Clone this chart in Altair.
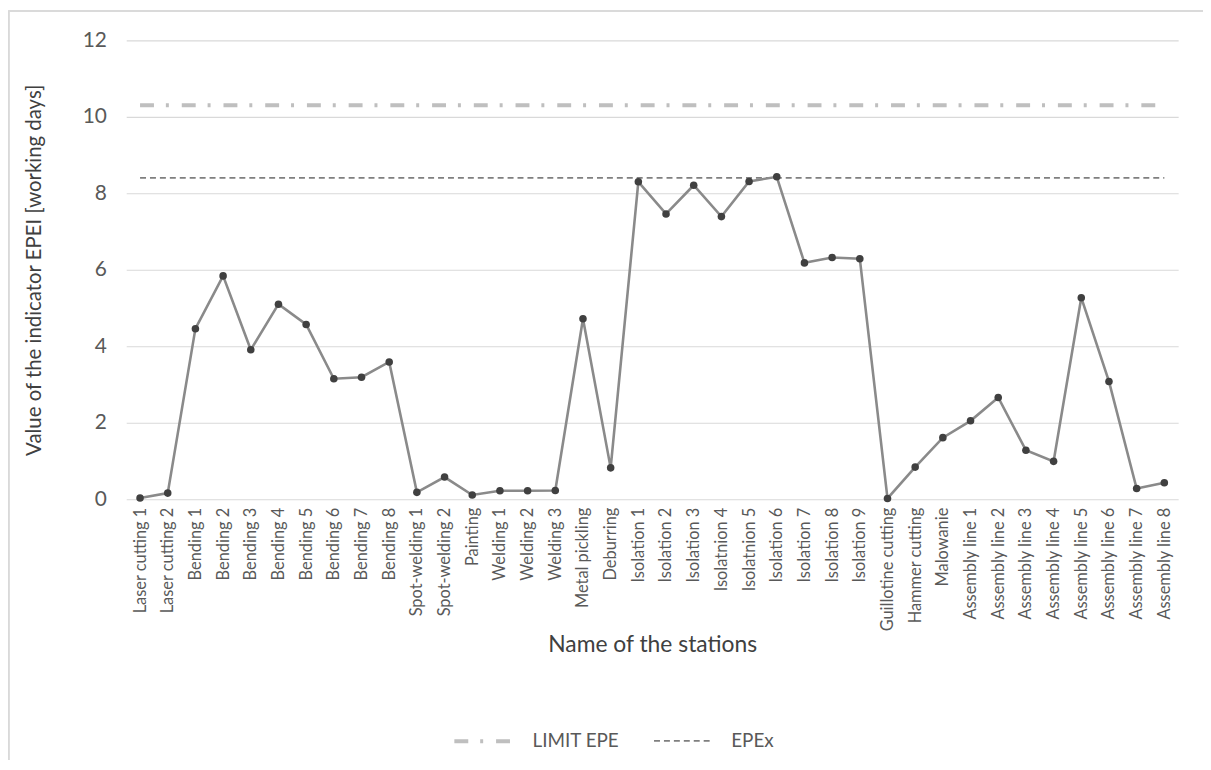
import altair as alt
import pandas as pd

stations = [
    "Laser cutting 1", "Laser cutting 2", "Bending 1", "Bending 2", "Bending 3",
    "Bending 4", "Bending 5", "Bending 6", "Bending 7", "Bending 8",
    "Spot-welding 1", "Spot-welding 2", "Painting", "Welding 1", "Welding 2",
    "Welding 3", "Metal pickling", "Deburring", "Isolation 1", "Isolation 2",
    "Isolation 3", "Isolatnion 4", "Isolatnion 5", "Isolation 6", "Isolation 7",
    "Isolation 8", "Isolation 9", "Guillotine cutting", "Hammer cutting", "Malowanie",
    "Assembly line 1", "Assembly line 2", "Assembly line 3", "Assembly line 4",
    "Assembly line 5", "Assembly line 6", "Assembly line 7", "Assembly line 8",
]
epei = [
    0.03, 0.16, 4.46, 5.84, 3.91, 5.10, 4.57, 3.15, 3.19, 3.59,
    0.18, 0.58, 0.11, 0.22, 0.22, 0.23, 4.72, 0.82, 8.30, 7.46,
    8.21, 7.39, 8.31, 8.43, 6.18, 6.32, 6.29, 0.02, 0.84, 1.61,
    2.05, 2.66, 1.28, 0.99, 5.27, 3.08, 0.28, 0.43,
]
limit_epe = 10.3
epex = 8.4
ref_names = ["LIMIT EPE", "EPEx"]
y_ticks = [0, 2, 4, 6, 8, 10, 12]

main_df = pd.DataFrame({"station": stations, "value": epei})
ref_df = pd.DataFrame(
    [{"station": s, "series": "LIMIT EPE", "value": limit_epe} for s in stations]
    + [{"station": s, "series": "EPEx", "value": epex} for s in stations]
)

W, H = 1059, 462
FONT = "Lato"
TXT = "#595959"

x_enc = alt.X(
    "station:N", sort=stations, scale=alt.Scale(padding=0.5),
    axis=alt.Axis(
        title="Name of the stations", labelAngle=-90, labelFontSize=16.5,
        labelColor=TXT, labelFont=FONT, labelPadding=8, ticks=False,
        domain=False, grid=False, titleFontSize=23, titleFont=FONT,
        titleFontWeight="normal", titleColor="#404040", titleY=146,
        titleBaseline="middle",
    ),
)
y_scale = alt.Scale(domain=[0, 12], nice=False)

leg = alt.Legend(
    title=None, orient="none", legendX=328, legendY=674,
    direction="horizontal", symbolType="stroke", symbolSize=3400,
    labelFontSize=19, labelColor=TXT, labelFont=FONT,
    columnPadding=30, labelOffset=18,
)

refs = alt.Chart(ref_df).mark_line(clip=False).encode(
    x=x_enc,
    y=alt.Y("value:Q", scale=y_scale),
    color=alt.Color(
        "series:N", sort=ref_names,
        scale=alt.Scale(domain=ref_names, range=["#bfbfbf", "#7f7f7f"]),
        legend=leg,
    ),
    strokeDash=alt.StrokeDash(
        "series:N", sort=ref_names,
        scale=alt.Scale(domain=ref_names, range=[[14, 12, 3, 13], [6, 4]]),
        legend=leg,
    ),
    strokeWidth=alt.StrokeWidth(
        "series:N", sort=ref_names,
        scale=alt.Scale(domain=ref_names, range=[4, 1.8]),
        legend=leg,
    ),
)

line = alt.Chart(main_df).mark_line(color="#8a8a8a", strokeWidth=2.6).encode(
    x=x_enc,
    y=alt.Y(
        "value:Q", scale=y_scale,
        axis=alt.Axis(
            title="Value of the indicator EPEI [working days]", values=y_ticks,
            labelFontSize=21, labelColor=TXT, labelFont=FONT, labelPadding=20,
            ticks=False, domain=False, gridColor="#d9d9d9", gridWidth=1.2,
            titleFontSize=20.5, titleFont=FONT, titleFontWeight="normal",
            titleColor="#404040", titleX=-92, titleY=H / 2, titleAngle=-90,
            titleAlign="center", titleBaseline="middle",
        ),
    ),
)
points = alt.Chart(main_df).mark_circle(color="#404040", size=58, opacity=1).encode(
    x=x_enc, y=alt.Y("value:Q", scale=y_scale)
)

border_top = alt.Chart(main_df).mark_rule(color="#d9d9d9", strokeWidth=1.2, clip=False).encode(
    x=alt.value(-118.5), x2=alt.value(W + 200), y=alt.value(-29.5)
)
border_left = alt.Chart(main_df).mark_rule(color="#d9d9d9", strokeWidth=1.2, clip=False).encode(
    x=alt.value(-118.5), y=alt.value(-29.5), y2=alt.value(H + 400)
)

chart = alt.layer(border_top, border_left, refs, line, points).properties(
    width=W, height=H,
    background="white",
    autosize=alt.AutoSizeParams(type="none"),
    padding={"left": 119, "top": 30, "right": 25, "bottom": 260},
).configure_view(strokeWidth=0, stroke="transparent")

chart.save("out.html", embed_options={"renderer": "svg", "actions": False})
